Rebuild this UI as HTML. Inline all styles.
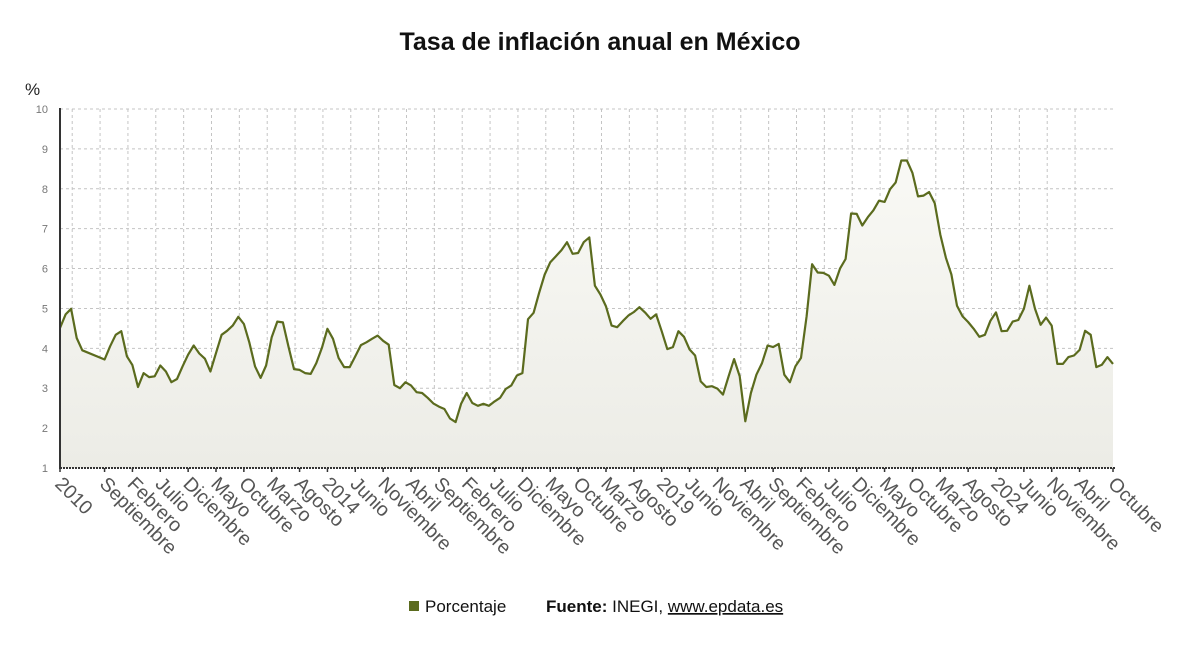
<!DOCTYPE html>
<html><head><meta charset="utf-8"><style>
body{margin:0;background:#fff;width:1200px;height:651px;overflow:hidden;font-family:"Liberation Sans",sans-serif;}
</style></head><body>
<svg width="1200" height="651" xmlns="http://www.w3.org/2000/svg" font-family="Liberation Sans, sans-serif">
<defs><linearGradient id="fillg" x1="0" y1="0" x2="0" y2="1"><stop offset="0" stop-color="#f9f9f5"/><stop offset="1" stop-color="#ecece6"/></linearGradient></defs>
<text x="600" y="50" text-anchor="middle" font-size="25" font-weight="bold" fill="#111">Tasa de inflación anual en México</text>
<text x="25" y="95" font-size="17" fill="#222">%</text>
<g id="grid"></g><g id="area"></g><g id="axes"></g><g id="xlabels"></g>
<g>
<rect x="409" y="601" width="10" height="10" fill="#5b6b1e"/>
<text x="425" y="612" font-size="17" fill="#111">Porcentaje</text>
</g>
<text x="546" y="612" font-size="17" fill="#111"><tspan font-weight="bold">Fuente:</tspan> INEGI, <tspan text-decoration="underline">www.epdata.es</tspan></text>
</svg>
<script>
const values=[4.51,4.85,4.99,4.26,3.95,null,null,null,3.72,4.05,4.34,4.43,3.80,3.58,3.03,3.38,3.28,3.30,3.57,3.42,3.15,3.23,3.55,3.84,4.07,3.87,3.74,3.42,3.88,4.34,4.44,4.57,4.79,4.61,4.14,3.55,3.26,3.57,4.28,4.67,4.65,4.05,3.48,3.46,3.38,3.36,3.63,4.01,4.49,4.24,3.76,3.53,3.53,3.80,4.08,4.15,4.24,4.32,4.19,4.09,3.08,3.00,3.15,3.07,2.90,2.88,2.76,2.62,2.54,2.48,2.24,2.15,2.61,2.88,2.63,2.56,2.61,2.56,2.67,2.76,2.98,3.07,3.32,3.38,4.73,4.89,5.39,5.85,6.16,6.31,6.46,6.66,6.37,6.39,6.66,6.78,5.57,5.35,5.05,4.57,4.53,4.68,4.82,4.91,5.03,4.90,4.74,4.85,4.43,3.98,4.03,4.43,4.29,3.97,3.82,3.17,3.03,3.05,2.99,2.84,3.30,3.73,3.30,2.17,2.88,3.34,3.63,4.07,4.03,4.11,3.34,3.15,3.55,3.76,4.80,6.11,5.90,5.89,5.82,5.59,6.00,6.24,7.38,7.37,7.08,7.29,7.46,7.70,7.67,7.99,8.16,8.71,8.71,8.40,7.81,7.83,7.92,7.64,6.85,6.27,5.85,5.07,4.80,4.66,4.49,4.29,4.34,4.69,4.90,4.43,4.44,4.67,4.71,4.99,5.57,4.99,4.59,4.77,4.57,3.61,3.61,3.78,3.82,3.96,4.44,4.34,3.53,3.59,3.78,3.61];
const tickLabels=["2010","Septiembre","Febrero","Julio","Diciembre","Mayo","Octubre","Marzo","Agosto","2014","Junio","Noviembre","Abril","Septiembre","Febrero","Julio","Diciembre","Mayo","Octubre","Marzo","Agosto","2019","Junio","Noviembre","Abril","Septiembre","Febrero","Julio","Diciembre","Mayo","Octubre","Marzo","Agosto","2024","Junio","Noviembre","Abril","Octubre"];
const tickIdx=[0,8,13,18,23,28,33,38,43,48,53,58,63,68,73,78,83,88,93,98,103,108,113,118,123,128,133,138,143,148,153,158,163,168,173,178,183,189];
const yTicks=[1,2,3,4,5,6,7,8,9,10];
const NS="http://www.w3.org/2000/svg";
const X0=60,X1=1113,Y0=468,Y1=109;
const xs=i=>X0+i*(X1-X0)/(values.length-1);
const ys=v=>Y0-(v-1)*(Y0-Y1)/9;
function mk(t,a,p){const e=document.createElementNS(NS,t);for(const k in a)e.setAttribute(k,a[k]);p.appendChild(e);return e;}
const grid=document.getElementById('grid'),axes=document.getElementById('axes'),area=document.getElementById('area'),xl=document.getElementById('xlabels');
yTicks.forEach(v=>{
 if(v>1){const l=mk('line',{x1:X0,x2:X1,y1:ys(v),y2:ys(v),stroke:'#c4c4c4','stroke-dasharray':'3,3'},grid);
 
 }
 const t=mk('text',{x:X0-12,y:ys(v)+4,'text-anchor':'end','font-size':'11',fill:'#777'},axes);t.textContent=v;
 
 
});
for(let k=-1;k<36;k++){const gx=xs(8+5*k)-4.5;
 const l=mk('line',{x1:gx,x2:gx,y1:Y1,y2:Y0,stroke:'#c4c4c4','stroke-dasharray':'3,3'},grid);
 
 }
let pts=[];values.forEach((v,i)=>{if(v!==null)pts.push([xs(i),ys(v)]);});
const line=pts.map(p=>p[0].toFixed(1)+','+p[1].toFixed(1)).join(' ');
const ar=mk('polygon',{points:X0+','+Y0+' '+line+' '+X1+','+Y0,fill:'url(#fillg)'},area);


const pl=mk('polyline',{points:line,fill:'none',stroke:'#5b6b1e','stroke-width':'2.2','stroke-linejoin':'round'},area);


const ya=mk('line',{x1:X0,x2:X0,y1:Y1-1,y2:Y0+1,stroke:'#333','stroke-width':'2'},axes);


const xa=mk('line',{x1:X0,x2:X1+2,y1:Y0,y2:Y0,stroke:'#333','stroke-width':'2','stroke-dasharray':'2,1'},axes);


tickIdx.forEach((ix,k)=>{const x=xs(ix);
 const tk=mk('line',{x1:x,x2:x,y1:Y0,y2:Y0+4,stroke:'#333','stroke-width':'1.5'},axes);
 
 
 const t=mk('text',{x:0,y:0,'font-size':'19.5',fill:'#555',transform:'translate('+(x-6)+','+(Y0+17)+') rotate(45)'},xl);
 t.textContent=tickLabels[k];
 
 
});
</script>
</body></html>
